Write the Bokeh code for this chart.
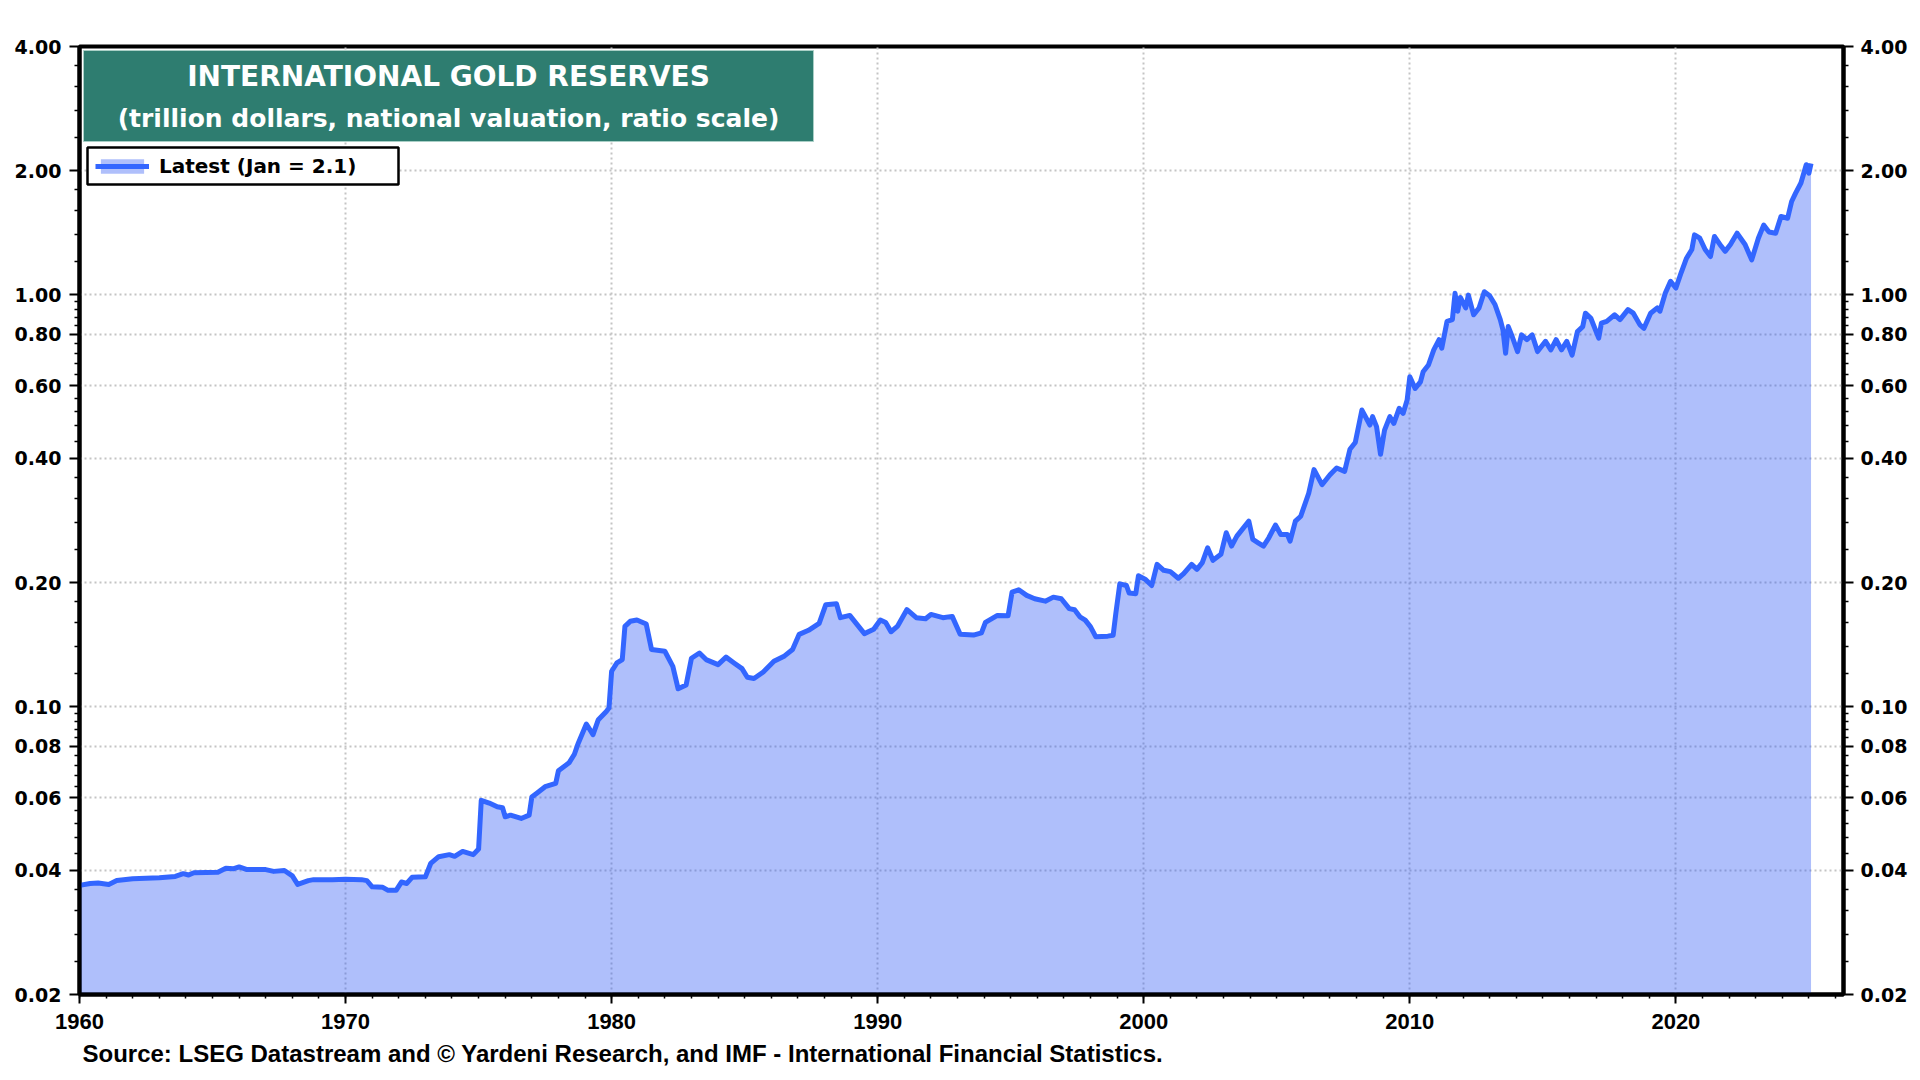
import math
from bokeh.plotting import figure
from bokeh.models import (FixedTicker, SingleIntervalTicker, PrintfTickFormatter, LogAxis,
                          BoxAnnotation, Label, Legend, LegendItem, ColumnDataSource, Title)
from bokeh.embed import file_html
from bokeh.resources import INLINE

# ---------------- data ----------------
years = [
    1960.0, 1960.4, 1960.7, 1961.1, 1961.4, 1962.0, 1962.5, 1963.0, 1963.6, 1963.9,
    1964.1, 1964.3, 1965.2, 1965.5, 1965.8, 1966.0, 1966.3, 1967.0, 1967.3, 1967.7,
    1968.0, 1968.2, 1968.6, 1968.8, 1969.5, 1970.0, 1970.6, 1970.8, 1971.0, 1971.4,
    1971.6, 1971.9, 1972.1, 1972.3, 1972.5, 1973.0, 1973.2, 1973.5, 1973.9, 1974.1,
    1974.4, 1974.8, 1975.0, 1975.1, 1975.4, 1975.7, 1975.9, 1976.0, 1976.2, 1976.6,
    1976.9, 1977.0, 1977.2, 1977.5, 1977.9, 1978.0, 1978.4, 1978.6, 1978.75, 1979.05,
    1979.3, 1979.5, 1979.8, 1979.9, 1980.0, 1980.2, 1980.4, 1980.5, 1980.7, 1980.95,
    1981.3, 1981.5, 1982.0, 1982.3, 1982.5, 1982.8, 1983.0, 1983.3, 1983.55, 1984.0,
    1984.3, 1984.6, 1984.9, 1985.1, 1985.35, 1985.7, 1986.1, 1986.5, 1986.8, 1987.05,
    1987.4, 1987.8, 1988.05, 1988.45, 1988.6, 1988.95, 1989.5, 1989.85, 1990.1, 1990.3,
    1990.5, 1990.75, 1991.1, 1991.45, 1991.8, 1992.0, 1992.45, 1992.8, 1993.1, 1993.6,
    1993.9, 1994.05, 1994.5, 1994.9, 1995.05, 1995.3, 1995.6, 1995.9, 1996.3, 1996.6,
    1996.9, 1997.2, 1997.4, 1997.6, 1997.8, 1998.0, 1998.2, 1998.65, 1998.85, 1998.95,
    1999.1, 1999.35, 1999.45, 1999.7, 1999.8, 2000.05, 2000.3, 2000.5, 2000.75, 2001.0,
    2001.3, 2001.5, 2001.8, 2002.0, 2002.2, 2002.4, 2002.6, 2002.9, 2003.1, 2003.3,
    2003.5, 2003.8, 2003.95, 2004.1, 2004.3, 2004.5, 2004.7, 2004.95, 2005.15, 2005.4,
    2005.5, 2005.7, 2005.9, 2006.2, 2006.4, 2006.7, 2007.0, 2007.25, 2007.55, 2007.75,
    2007.95, 2008.2, 2008.5, 2008.6, 2008.75, 2008.9, 2009.05, 2009.25, 2009.4, 2009.6,
    2009.75, 2009.9, 2010.0, 2010.2, 2010.4, 2010.5, 2010.7, 2010.9, 2011.1, 2011.2,
    2011.4, 2011.6, 2011.7, 2011.8, 2011.9, 2012.1, 2012.2, 2012.4, 2012.6, 2012.8,
    2013.0, 2013.2, 2013.4, 2013.5, 2013.6, 2013.7, 2013.85, 2014.05, 2014.2, 2014.4,
    2014.6, 2014.8, 2015.1, 2015.3, 2015.5, 2015.7, 2015.9, 2016.1, 2016.3, 2016.5,
    2016.6, 2016.8, 2017.1, 2017.2, 2017.4, 2017.7, 2017.9, 2018.2, 2018.4, 2018.65,
    2018.8, 2019.05, 2019.3, 2019.4, 2019.6, 2019.8, 2020.0, 2020.2, 2020.4, 2020.6,
    2020.7, 2020.9, 2021.1, 2021.3, 2021.45, 2021.7, 2021.85, 2022.05, 2022.3, 2022.6,
    2022.85, 2023.1, 2023.3, 2023.5, 2023.75, 2023.95, 2024.2, 2024.35, 2024.5, 2024.7,
    2024.9, 2025.0, 2025.08,
]
values = [
    0.0368, 0.0372, 0.0373, 0.0370, 0.0378, 0.0382, 0.0383, 0.0384, 0.0387, 0.0393,
    0.0390, 0.0395, 0.0396, 0.0405, 0.0404, 0.0408, 0.0402, 0.0402, 0.0398, 0.0400,
    0.0388, 0.0370, 0.0378, 0.0380, 0.0380, 0.0381, 0.0380, 0.0378, 0.0365, 0.0364,
    0.0358, 0.0358, 0.0375, 0.0372, 0.0385, 0.0386, 0.0416, 0.0432, 0.0437, 0.0433,
    0.0445, 0.0437, 0.0451, 0.0592, 0.0583, 0.0571, 0.0568, 0.0540, 0.0545, 0.0535,
    0.0545, 0.0603, 0.0617, 0.0639, 0.0651, 0.0698, 0.0730, 0.0766, 0.0816, 0.0907,
    0.0855, 0.0929, 0.0973, 0.0992, 0.1218, 0.1276, 0.1300, 0.1565, 0.1610, 0.1622,
    0.1586, 0.1375, 0.1362, 0.1252, 0.1104, 0.1128, 0.1310, 0.1349, 0.1300, 0.1264,
    0.1318, 0.1276, 0.1236, 0.1178, 0.1170, 0.1213, 0.1288, 0.1327, 0.1375, 0.1497,
    0.1531, 0.1592, 0.1767, 0.1777, 0.1643, 0.1664, 0.1503, 0.1540, 0.1622, 0.1600,
    0.1519, 0.1568, 0.1719, 0.1643, 0.1634, 0.1673, 0.1643, 0.1655, 0.1497, 0.1491,
    0.1510, 0.1600, 0.1664, 0.1660, 0.1895, 0.1920, 0.1861, 0.1826, 0.1802, 0.1843,
    0.1826, 0.1728, 0.1718, 0.1651, 0.1621, 0.1561, 0.1476, 0.1482, 0.1490, 0.1682,
    0.1985, 0.1967, 0.1886, 0.1879, 0.2076, 0.2038, 0.1967, 0.2214, 0.2141, 0.2125,
    0.2048, 0.2101, 0.2214, 0.2153, 0.2235, 0.2429, 0.2264, 0.2341, 0.2641, 0.2452,
    0.2592, 0.2741, 0.2818, 0.2544, 0.2497, 0.2452, 0.2568, 0.2757, 0.2616, 0.2616,
    0.2520, 0.2818, 0.2897, 0.3294, 0.3758, 0.3455, 0.3653, 0.3794, 0.3723, 0.4212,
    0.4374, 0.5243, 0.4823, 0.5053, 0.4778, 0.4094, 0.4689, 0.5053, 0.4868, 0.5292,
    0.5148, 0.5544, 0.6315, 0.5914, 0.6139, 0.6494, 0.6744, 0.7341, 0.7769, 0.7410,
    0.8612, 0.8693, 1.0070, 0.9110, 0.9840, 0.9280, 0.9970, 0.8930, 0.9280, 1.0160,
    0.9930, 0.9460, 0.8690, 0.8210, 0.7200, 0.8360, 0.7900, 0.7270, 0.7980, 0.7770,
    0.7980, 0.7270, 0.7700, 0.7340, 0.7770, 0.7340, 0.7700, 0.7130, 0.8130, 0.8360,
    0.9010, 0.8770, 0.7840, 0.8520, 0.8610, 0.8930, 0.8690, 0.9190, 0.9010, 0.8440,
    0.8280, 0.9010, 0.9280, 0.9110, 1.0070, 1.0770, 1.0370, 1.1310, 1.2250, 1.2860,
    1.3960, 1.3700, 1.2860, 1.2370, 1.3830, 1.3110, 1.2730, 1.3230, 1.4090, 1.3230,
    1.2140, 1.3700, 1.4740, 1.4190, 1.4090, 1.5470, 1.5320, 1.6820, 1.7620, 1.8650,
    2.0660, 1.9700, 2.0800,
]

y_ticks = [0.02, 0.04, 0.06, 0.08, 0.10, 0.20, 0.40, 0.60, 0.80, 1.00, 2.00, 4.00]
title_line1 = "INTERNATIONAL GOLD RESERVES"
title_line2 = "(trillion dollars, national valuation, ratio scale)"
legend_label = "Latest (Jan = 2.1)"
source_text = "Source: LSEG Datastream and \u00a9 Yardeni Research, and IMF - International Financial Statistics."

# ---------------- layout ----------------
X_START, X_END = 1960, 2026.3
Y_MIN, Y_MAX = 0.02, 4.0
W, H = 1912, 1080
F_LEFT, F_RIGHT, F_TOP, F_BOTTOM = 79, 1843, 46, 994
ML, MR, MT, MB = F_LEFT, W - F_RIGHT, F_TOP, H - F_BOTTOM


def dx(px):
    return X_START + (px - F_LEFT) / (F_RIGHT - F_LEFT) * (X_END - X_START)


def dy(py):
    return math.exp(math.log(Y_MAX) - (py - F_TOP) / (F_BOTTOM - F_TOP) * math.log(Y_MAX / Y_MIN))


FONT = "Liberation Sans"
WIDE = "DejaVu Sans"
LINE_BLUE = "#3366FF"

p = figure(width=W, height=H, x_range=(X_START, X_END), y_range=(Y_MIN, Y_MAX),
           y_axis_type="log", output_backend="svg", toolbar_location=None,
           min_border_left=ML, min_border_right=MR, min_border_top=MT, min_border_bottom=MB,
           background_fill_color="white", border_fill_color="white")
p.outline_line_color = "black"
p.outline_line_width = 4

src = ColumnDataSource(dict(x=years, y=values))
area = p.varea(x="x", y1=0.001, y2="y", source=src, fill_color="#325AF5", fill_alpha=0.39)
line = p.line(x="x", y="y", source=src, line_color=LINE_BLUE, line_width=5, line_join="round")

# y ticks
minor = []
for a, b in zip(y_ticks[:-1], y_ticks[1:]):
    for k in range(1, 5):
        minor.append(a + k * (b - a) / 5)


def style_axis(ax, font, size):
    ax.axis_line_color = "black"
    ax.axis_line_width = 4
    ax.major_tick_line_color = "black"
    ax.major_tick_line_width = 2
    ax.minor_tick_line_color = "black"
    ax.minor_tick_line_width = 1.5
    ax.major_tick_in = 0
    ax.minor_tick_in = 0
    ax.major_tick_out = 10
    ax.minor_tick_out = 5
    ax.major_label_text_font = font
    ax.major_label_text_font_style = "bold"
    ax.major_label_text_font_size = size
    ax.major_label_text_color = "black"


yl = p.yaxis[0]
yl.ticker = FixedTicker(ticks=y_ticks, minor_ticks=minor)
yl.formatter = PrintfTickFormatter(format="%.2f")
style_axis(yl, WIDE, "19px")
yl.major_label_standoff = 8

yr = LogAxis(ticker=FixedTicker(ticks=y_ticks, minor_ticks=minor),
             formatter=PrintfTickFormatter(format="%.2f"))
style_axis(yr, WIDE, "19px")
yr.major_label_standoff = 7
p.add_layout(yr, "right")

xa = p.xaxis[0]
xa.ticker = SingleIntervalTicker(interval=10, num_minor_ticks=10)
style_axis(xa, FONT, "22px")
xa.major_tick_out = 9
xa.minor_tick_out = 4
xa.major_label_standoff = 10

# source note below the axis
p.add_layout(Title(text=source_text, align="left", offset=3, standoff=12,
                   text_font=FONT, text_font_style="bold", text_font_size="24px",
                   text_color="black"), "below")

# grids
p.xgrid.ticker = SingleIntervalTicker(interval=10)
p.ygrid.ticker = FixedTicker(ticks=y_ticks)
for g in (p.xgrid[0], p.ygrid[0]):
    g.grid_line_color = "#c4c4c4"
    g.grid_line_width = 2
    g.grid_line_dash = "2 3"

# title box
p.add_layout(BoxAnnotation(left=dx(83), right=dx(813), top=dy(50), bottom=dy(141),
                           fill_color="#2E7D70", fill_alpha=1.0,
                           line_color="#a9cfc6", line_alpha=1.0, line_width=1,
                           level="annotation"))
for txt, py, fs in ((title_line1, 76, "28px"), (title_line2, 118, "25px")):
    p.add_layout(Label(x=dx(448), y=dy(py), text=txt, text_align="center",
                       text_baseline="middle", text_color="white", text_font=WIDE,
                       text_font_style="bold", text_font_size=fs))

# legend box
p.add_layout(BoxAnnotation(left=dx(87), right=dx(398), top=dy(147), bottom=dy(184),
                           fill_color="white", fill_alpha=1.0,
                           line_color="black", line_alpha=1.0, line_width=2.5,
                           level="annotation"))
legend = Legend(items=[LegendItem(label=legend_label, renderers=[area, line])],
                location=(12, F_BOTTOM - 182), background_fill_alpha=0.0,
                border_line_alpha=0.0, label_text_font=WIDE, label_text_font_style="bold",
                label_text_font_size="20px", label_text_color="black",
                glyph_width=54, glyph_height=18, label_height=24, padding=4,
                margin=0, label_standoff=10)
p.add_layout(legend)

open("out.html", "w").write(file_html(p, INLINE))
